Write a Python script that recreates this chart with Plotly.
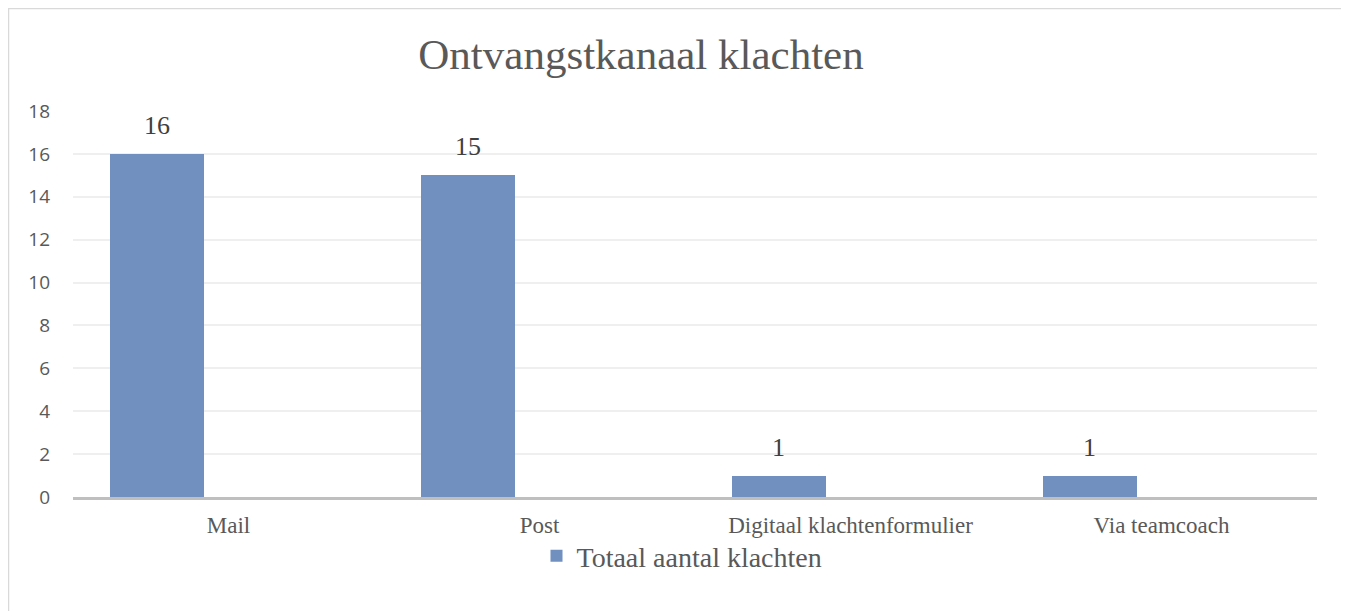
import plotly.graph_objects as go

categories = ["Mail", "Post", "Digitaal klachtenformulier", "Via teamcoach"]
values = [16, 15, 1, 1]
series_name = "Totaal aantal klachten"
title_text = "Ontvangstkanaal klachten"
y_ticks = [0, 2, 4, 6, 8, 10, 12, 14, 16, 18]

OFF = 8  # page body margin
W, H = 1349, 611
L, R, T, B = 73 - OFF, 40, 111 - OFF, 122
pw, ph = W - L - R, H - T - B

serif = "Liberation Serif"
sans = "Open Sans"

BAR_W, BAR_OFF = 0.302, -0.381
cat_px = pw / len(categories)

fig = go.Figure()
fig.add_trace(go.Bar(
    x=categories, y=values, name=series_name,
    width=BAR_W, offset=BAR_OFF,
    marker=dict(color="#7190c0", line=dict(width=0)),
))

for c, v in zip(categories, values):
    fig.add_annotation(x=c, y=v, text=str(v), showarrow=False,
                       yanchor="bottom", yshift=12,
                       xshift=(BAR_OFF + BAR_W / 2) * cat_px,
                       font=dict(family=serif, size=26, color="#404040"))

fig.update_layout(
    width=W, height=H,
    margin=dict(l=L, r=R, t=T, b=B),
    paper_bgcolor="white", plot_bgcolor="white",
    title=dict(text=title_text, x=(641 - OFF - L) / pw, xref="paper", xanchor="center",
               y=1 - (54 - OFF) / H, yanchor="middle",
               font=dict(family=serif, size=43, color="#595959")),
    showlegend=True,
    legend=dict(orientation="h", x=(682 - OFF - L) / pw, xanchor="center",
                y=-(556 - OFF - (T + ph)) / ph, yanchor="middle",
                font=dict(family=serif, size=28, color="#595959"),
                itemwidth=30, bgcolor="rgba(0,0,0,0)"),
    bargap=0,
)
fig.update_xaxes(
    type="category", showgrid=False, zeroline=False,
    showline=True, linecolor="#bfbfbf", linewidth=2.5,
    ticks="", tickfont=dict(family=serif, size=23, color="#595959"),
    ticklabelstandoff=6,
)
fig.update_yaxes(
    range=[0, 18], tickvals=y_ticks, showgrid=True, gridcolor="#efefef", gridwidth=1.5,
    zeroline=False, showline=False, ticks="",
    tickfont=dict(family=sans, size=19, color="#595959"),
    ticklabelstandoff=22,
)
fig.add_shape(type="rect", xref="paper", yref="paper",
              x0=(0.5 - L) / pw, x1=(1338 - L) / pw,
              y0=-(630 - (T + ph)) / ph, y1=1 + (T - 0.5) / ph,
              line=dict(color="#d9d9d9", width=1.5), layer="below")

fig.write_html("out.html")
